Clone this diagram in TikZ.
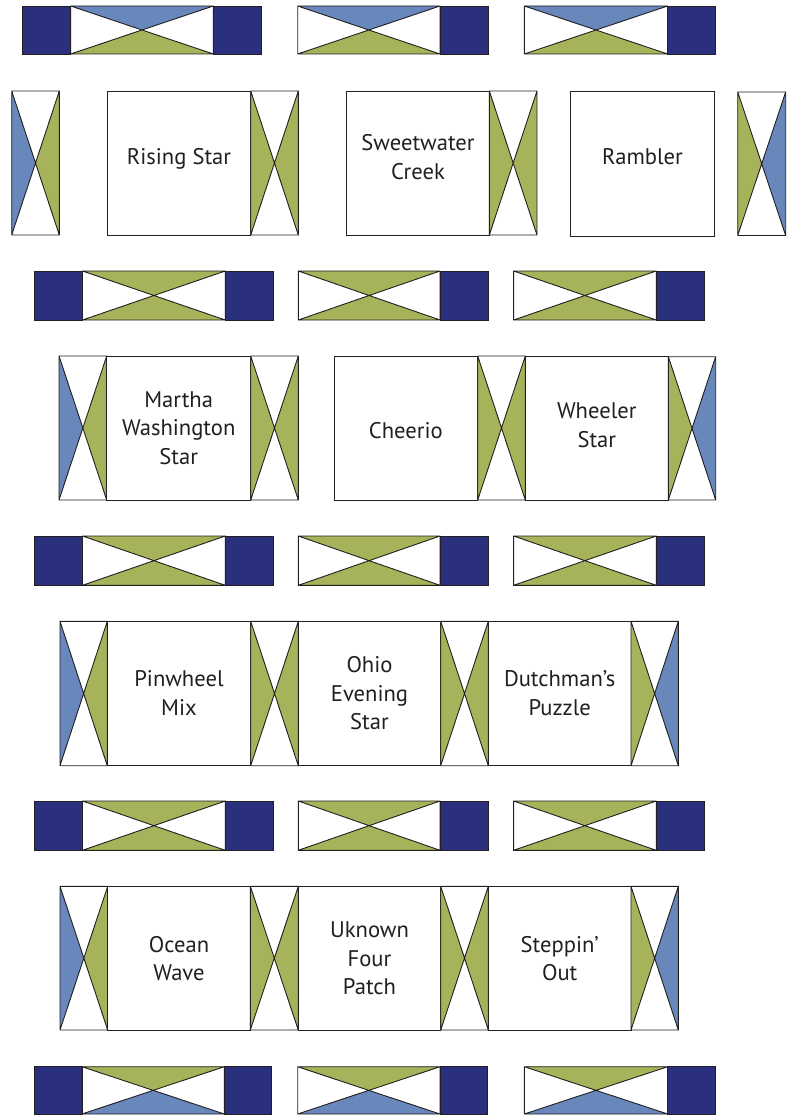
\documentclass[tikz,border=0pt]{standalone}
\usepackage{fontspec}
\setmainfont{PT Sans}
\usepackage{tikz}
\usetikzlibrary{calc}
\definecolor{qnavy}{RGB}{42,48,126}
\definecolor{qblue}{RGB}{104,136,188}
\definecolor{qgreen}{RGB}{167,179,90}
\definecolor{qink}{RGB}{35,31,32}
\tikzset{
  edge/.style = {draw=qink, line width=0.9pt, line join=miter},
  qlbl/.style = {align=center, inner sep=0pt, text=qink,
                 font=\fontsize{22.6}{28.7}\selectfont},
}
% horizontal sashing: x0 y0 x1 y1 top bottom
\newcommand{\hsash}[6]{%
  \fill[#5] (#1,#2) -- (#3,#2) -- ({(#1+#3)/2},{(#2+#4)/2}) -- cycle;
  \fill[#6] (#1,#4) -- (#3,#4) -- ({(#1+#3)/2},{(#2+#4)/2}) -- cycle;
  \draw[edge] (#1,#2) rectangle (#3,#4) (#1,#2) -- (#3,#4) (#3,#2) -- (#1,#4);}
% vertical sashing: x0 y0 x1 y1 left right
\newcommand{\vsash}[6]{%
  \fill[#5] (#1,#2) -- (#1,#4) -- ({(#1+#3)/2},{(#2+#4)/2}) -- cycle;
  \fill[#6] (#3,#2) -- (#3,#4) -- ({(#1+#3)/2},{(#2+#4)/2}) -- cycle;
  \draw[edge] (#1,#2) rectangle (#3,#4) (#1,#2) -- (#3,#4) (#3,#2) -- (#1,#4);}
\newcommand{\cornersq}[4]{\draw[edge, fill=qnavy] (#1,#2) rectangle (#3,#4);}
\newcommand{\qblock}[4]{\draw[edge, fill=white] (#1,#2) rectangle (#3,#4);}

\begin{document}
\begin{tikzpicture}[x=1pt, y=-1pt]
    \useasboundingbox (0,0) rectangle (793,1115);

    % top border row
    \cornersq{22.7}{6}{70.7}{54}
    \hsash{70.7}{6}{213.3}{54}{qblue}{qgreen}
    \cornersq{213.3}{6}{261.7}{54}
    \hsash{297.7}{6}{440}{54}{qblue}{qgreen}
    \cornersq{440}{6}{488.3}{54}
    \hsash{524.3}{6}{667.7}{54}{qblue}{qgreen}
    \cornersq{667.7}{6}{715.7}{54}

    % block row 1
    \vsash{11.7}{91}{59.3}{235}{qblue}{qgreen}
    \qblock{107.3}{91}{250.7}{235}
    \vsash{250.7}{91}{298.3}{235}{qgreen}{qgreen}
    \qblock{346.7}{91}{489.3}{235}
    \vsash{489.3}{91}{537}{235}{qgreen}{qgreen}
    \qblock{570.3}{91.7}{714.7}{236}
    \vsash{737.7}{92}{785.7}{235.5}{qgreen}{qblue}
    \node[qlbl] (rising) at (179,159) {Rising Star};
    \node[qlbl] (sweet) at (418,157) {Sweetwater\\Creek};
    \node[qlbl] (rambler) at (642.5,156.5) {Rambler};

    % inner sashing rows
    \foreach \y/\yy in {271/320, 536/585.3, 801/850.3}{
      \cornersq{34.3}{\y}{82.5}{\yy}
      \hsash{82.5}{\y}{225.3}{\yy}{qgreen}{qgreen}
      \cornersq{225.3}{\y}{273.3}{\yy}
      \hsash{298.3}{\y}{440}{\yy}{qgreen}{qgreen}
      \cornersq{440}{\y}{488.3}{\yy}
      \hsash{513.6}{\y}{656.2}{\yy}{qgreen}{qgreen}
      \cornersq{656.2}{\y}{704.3}{\yy}
    }

    % block row 2
    \vsash{59}{356}{106.7}{500}{qblue}{qgreen}
    \qblock{106.7}{356}{250.7}{500}
    \vsash{250.7}{356}{298.3}{500}{qgreen}{qgreen}
    \qblock{334}{356}{477.7}{500}
    \vsash{477.7}{356}{525.3}{500}{qgreen}{qgreen}
    \qblock{525.3}{356.7}{668.3}{500}
    \vsash{668.3}{356.7}{715.7}{500}{qgreen}{qblue}
    \node[qlbl] (martha) at (178.7,428) {Martha\\Washington\\Star};
    \node[qlbl] (cheerio) at (405.8,431) {Cheerio};
    \node[qlbl] (wheeler) at (596.8,425.3) {Wheeler\\Star};

    % block row 3
    \vsash{60}{621.3}{107.3}{765.7}{qblue}{qgreen}
    \qblock{107.3}{621.3}{250.7}{765.7}
    \vsash{250.7}{621.3}{298.3}{765.7}{qgreen}{qgreen}
    \qblock{298.3}{621.3}{440.7}{765.7}
    \vsash{440.7}{621.3}{488.3}{765.7}{qgreen}{qgreen}
    \qblock{488.3}{621.3}{631}{765.7}
    \vsash{631}{621.3}{678.3}{765.7}{qgreen}{qblue}
    \node[qlbl] (pinwheel) at (179,693.3) {Pinwheel\\Mix};
    \node[qlbl] (ohio) at (369.5,693.3) {Ohio\\Evening\\Star};
    \node[qlbl] (dutch) at (559.7,693.3) {Dutchman’s\\Puzzle};

    % block row 4
    \vsash{60}{886.3}{107.7}{1030}{qblue}{qgreen}
    \qblock{107.7}{886.3}{250.3}{1030}
    \vsash{250.3}{886.3}{298.3}{1030}{qgreen}{qgreen}
    \qblock{298.3}{886.3}{440.7}{1030}
    \vsash{440.7}{886.3}{488.3}{1030}{qgreen}{qgreen}
    \qblock{488.3}{886.3}{631}{1030}
    \vsash{631}{886.3}{678.3}{1030}{qgreen}{qblue}
    \node[qlbl] (ocean) at (179,958.7) {Ocean\\Wave};
    \node[qlbl] (uknown) at (369.5,958.3) {Uknown\\Four\\Patch};
    \node[qlbl] (steppin) at (559.7,958.5) {Steppin’\\Out};

    % bottom border row
    \cornersq{34}{1066.7}{82}{1114}
    \hsash{82}{1066.7}{224.3}{1114}{qgreen}{qblue}
    \cornersq{224.3}{1066.7}{271.7}{1114}
    \hsash{297.7}{1066.7}{440}{1114}{qgreen}{qblue}
    \cornersq{440}{1066.7}{487.3}{1114}
    \hsash{524.3}{1066.7}{667.7}{1114}{qgreen}{qblue}
    \cornersq{667.7}{1066.7}{715.7}{1114}
  \end{tikzpicture}
\end{document}
